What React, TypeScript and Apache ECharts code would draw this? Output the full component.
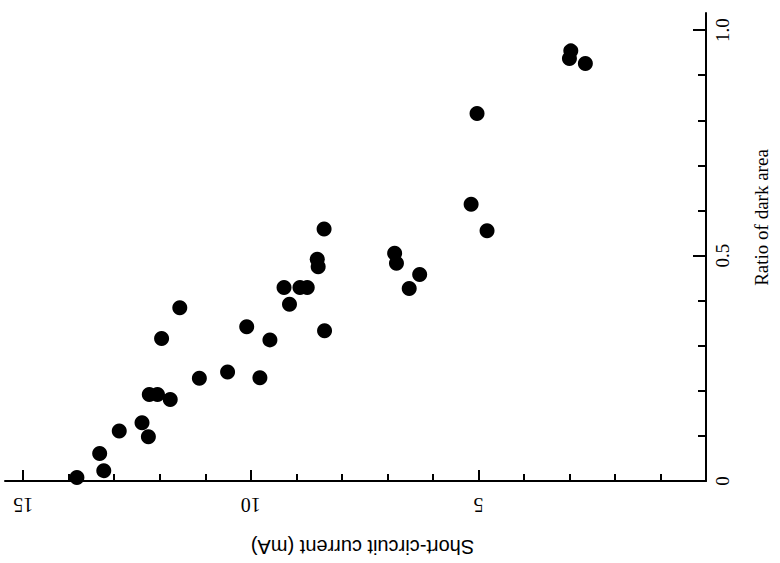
import React, { useEffect, useRef } from "react";
import * as echarts from "echarts";

// Short-circuit current (mA), ratio of dark area
const currentMA = [
  13.82, 13.23, 13.32, 12.89, 12.39, 12.25, 12.23, 12.05, 11.77, 11.96, 11.56, 11.13,
  8.39, 8.54, 8.52, 9.27, 8.92, 8.76, 9.15, 10.09, 9.58, 8.38, 10.51, 9.8,
  6.84, 6.8, 6.29, 6.52,
  2.97, 3.0, 2.65, 5.03, 5.16, 4.81,
];
const darkRatio = [
  0.008, 0.023, 0.061, 0.111, 0.129, 0.098, 0.192, 0.192, 0.181, 0.316, 0.384, 0.228,
  0.559, 0.492, 0.475, 0.429, 0.429, 0.429, 0.392, 0.342, 0.313, 0.333, 0.242, 0.229,
  0.505, 0.483, 0.458, 0.427,
  0.954, 0.937, 0.926, 0.815, 0.614, 0.555,
];

const xMajorTicks = [0, 5, 10, 15];
const xMinorTicks = [1, 2, 3, 4, 6, 7, 8, 9, 11, 12, 13, 14];
const xTickLabels = [5, 10, 15];
const yMajorTicks = [0, 0.5, 1.0];
const yMinorTicks = [0.1, 0.2, 0.3, 0.4, 0.6, 0.7, 0.8, 0.9];
const yTickLabels = [0, 0.5, 1.0];

const X_MAX = 15.4;
const Y_MAX = 1.038;

export default function App() {
  const ref = useRef<HTMLDivElement>(null);
  useEffect(() => {
    if (!ref.current) return;
    const chart = echarts.init(ref.current, null, { renderer: "svg" });
    const serif = "Liberation Serif";
    const axisLine = { show: true, onZero: false, lineStyle: { color: "#000", width: 2 } };
    chart.setOption({
      animation: false,
      backgroundColor: "#fff",
      grid: { left: 5, right: 74, top: 13, bottom: 82, containLabel: false, outerBoundsMode: "none" },
      xAxis: [
        {
          type: "value",
          min: 0,
          max: X_MAX,
          inverse: true,
          position: "bottom",
          axisLine,
          axisTick: { show: true, inside: true, length: 11, customValues: xMajorTicks, lineStyle: { color: "#000", width: 2 } },
          axisLabel: {
            customValues: xTickLabels,
            rotate: 180,
            margin: 14,
            color: "#000",
            fontFamily: serif,
            fontSize: 20,
          },
          splitLine: { show: false },
          name: "Short-circuit current (mA)",
          nameLocation: "middle",
          nameGap: 56,
          nameRotate: 180,
          nameTextStyle: { color: "#000", fontFamily: "Liberation Sans", fontSize: 20, padding: [0, 14, 0, 0] },
        },
        {
          type: "value",
          min: 0,
          max: X_MAX,
          inverse: true,
          position: "bottom",
          axisLine: { show: false, onZero: false },
          axisTick: { show: true, inside: true, length: 7, customValues: xMinorTicks, lineStyle: { color: "#000", width: 2 } },
          axisLabel: { show: false },
          splitLine: { show: false },
        },
      ],
      yAxis: [
        {
          type: "value",
          min: 0,
          max: Y_MAX,
          position: "right",
          axisLine,
          axisTick: { show: true, inside: true, length: 13, customValues: yMajorTicks, lineStyle: { color: "#000", width: 2 } },
          axisLabel: {
            customValues: yTickLabels,
            rotate: 90,
            margin: 7,
            color: "#000",
            fontFamily: serif,
            fontSize: 19,
            formatter: (v: number) => (v === 1 ? "1.0" : String(v)),
          },
          splitLine: { show: false },
          name: "Ratio of dark area",
          nameLocation: "middle",
          nameGap: 46,
          nameRotate: 90,
          nameTextStyle: { color: "#000", fontFamily: serif, fontSize: 19, padding: [0, 0, 0, 59] },
        },
        {
          type: "value",
          min: 0,
          max: Y_MAX,
          position: "right",
          axisLine: { show: false, onZero: false },
          axisTick: { show: true, inside: true, length: 8, customValues: yMinorTicks, lineStyle: { color: "#000", width: 2 } },
          axisLabel: { show: false },
          splitLine: { show: false },
        },
      ],
      series: [
        {
          type: "scatter",
          xAxisIndex: 0,
          yAxisIndex: 0,
          symbol: "circle",
          symbolSize: 15,
          itemStyle: { color: "#000", opacity: 1 },
          data: currentMA.map((c, i) => [c, darkRatio[i]]),
        },
      ],
    });
    return () => chart.dispose();
  }, []);
  return (
    <div
      ref={ref}
      style={{ position: "absolute", left: 0, top: 0, width: 780, height: 563, background: "#fff" }}
    />
  );
}
